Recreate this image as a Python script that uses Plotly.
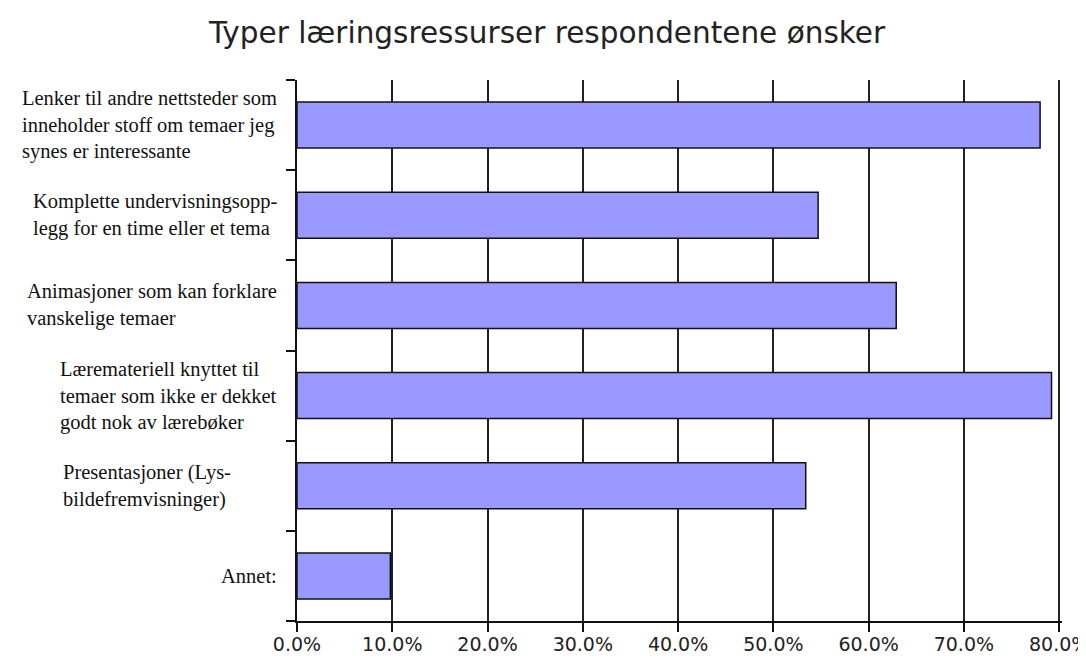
import plotly.graph_objects as go

categories = [
    "Lenker til andre nettsteder som<br>inneholder stoff om temaer jeg<br>synes er interessante",
    "Komplette undervisningsopp-<br>legg for en time eller et tema",
    "Animasjoner som kan forklare<br>vanskelige temaer",
    "Læremateriell knyttet til<br>temaer som ikke er dekket<br>godt nok av lærebøker",
    "Presentasjoner (Lys-<br>bildefremvisninger)",
    "Annet:",
]
values = [78.0, 54.7, 62.9, 79.2, 53.4, 9.8]
x_ticks = [0, 10, 20, 30, 40, 50, 60, 70, 80]
title = "Typer læringsressurser respondentene ønsker"

# extra left shift (px) of individual label blocks, as in the reference
label_shift = [0, 0, 0, 0, 46, 0]

fig = go.Figure()
fig.add_trace(go.Bar(
    x=values,
    y=list(range(len(categories))),
    orientation="h",
    marker=dict(color="#9999ff", line=dict(color="#111111", width=1.5)),
    hoverinfo="x",
))

for i, (lab, sh) in enumerate(zip(categories, label_shift)):
    fig.add_annotation(
        x=0, xref="paper", y=i, yref="y",
        text=lab, showarrow=False,
        xanchor="right", yanchor="middle", align="left",
        xshift=-18 - sh,
        font=dict(family="Liberation Serif", size=20.5, color="#111111"),
    )

# page body has an 8px margin, so the figure is 8px smaller each way
fig.update_layout(
    width=1078, height=654,
    margin=dict(l=289, r=24, t=72, b=41),
    paper_bgcolor="white", plot_bgcolor="white",
    bargap=0.49,
    showlegend=False,
    title=dict(text=title, x=0.5, xanchor="center", y=0.962, yanchor="middle",
               font=dict(family="DejaVu Sans", size=29.5, color="#222222")),
)
fig.update_xaxes(
    range=[0, 80.3], tickvals=x_ticks,
    ticktext=[f"{v:.1f}%" for v in x_ticks],
    showgrid=True, gridcolor="#222222", gridwidth=1.5,
    zeroline=False,
    showline=True, linecolor="#111111", linewidth=1.5,
    ticks="outside", ticklen=9, tickwidth=1.5, tickcolor="#111111",
    ticklabelstandoff=-4, ticklabeloverflow="allow",
    tickfont=dict(family="DejaVu Sans", size=19, color="#222222"),
    automargin=False,
)
fig.update_yaxes(
    type="linear", range=[5.5, -0.5],
    tickvals=[i - 0.5 for i in range(len(categories) + 1)],
    showticklabels=False,
    showgrid=False, zeroline=False,
    showline=True, linecolor="#111111", linewidth=1.5,
    ticks="outside", ticklen=9, tickwidth=1.5, tickcolor="#111111",
    automargin=False,
)

fig.write_html("out.html")
